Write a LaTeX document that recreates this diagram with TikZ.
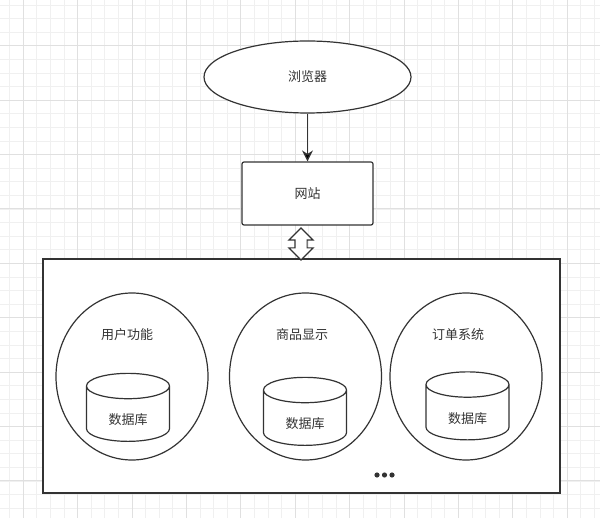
\documentclass[tikz,border=0pt]{standalone}
\usepackage{fontspec}
\usepackage{tikz}
\usetikzlibrary{shapes.geometric,shapes.arrows,positioning,arrows.meta}
\newfontfamily\cjk{Noto Sans CJK SC}
\definecolor{minorgrid}{HTML}{F0F0F0}
\definecolor{majorgrid}{HTML}{E0E0E0}
\definecolor{ink}{HTML}{333333}

\begin{document}
\begin{tikzpicture}[x=1pt,y=-1pt,line width=1.2pt,on grid,
   every node/.style={font=\cjk\fontsize{13}{15}\selectfont,text=ink},
   outlined/.style={draw=ink,fill=white,inner sep=0pt},
   browser/.style={outlined,ellipse,minimum width=207pt,minimum height=72pt},
   site/.style={outlined,rectangle,rounded corners=2pt,minimum width=131pt,minimum height=63pt},
   sysbox/.style={outlined,rectangle,minimum width=517pt,minimum height=234pt},
   module/.style={outlined,ellipse,minimum width=152pt,minimum height=167pt},
   db/.style={outlined,cylinder,shape border rotate=90,aspect=0.65,text height=23pt,minimum height=68pt,minimum width=83pt},
   link/.style={outlined,double arrow,rotate=90,inner ysep=5.5pt,minimum height=32pt,minimum width=24pt,double arrow head extend=6pt},
   minorline/.style={draw=minorgrid,line width=1pt},
   majorline/.style={draw=majorgrid,line width=1pt}]
   \useasboundingbox (0,0) rectangle (600,518);
   % background grid
   \foreach \i in {0,...,43} \draw[minorline] ({9.7+13.6*\i},0) -- ({9.7+13.6*\i},518);
   \foreach \j in {0,...,38} \draw[minorline] (0,{5.1+13.6*\j}) -- (600,{5.1+13.6*\j});
   \foreach \i in {0,...,10} \draw[majorline] ({23.3+54.4*\i},0) -- ({23.3+54.4*\i},518);
   \foreach \j in {0,...,8} \draw[majorline] (0,{45.7+54.4*\j}) -- (600,{45.7+54.4*\j});

   \node[browser] (browser) at (307.5,77) {浏览器};
   \node[site] (site) [below=116.5pt of browser] {网站};
   \node[sysbox] (sys) at (301.5,376) {};
   \node[link] (link) at (301,244) {};

   \node[module] (user) at (132,376.5) {};
   \node[module] (goods) [right=173.5pt of user] {};
   \node[module] (order) [right=160.5pt of goods] {};

   \node (userT) at (127,335) {用户功能};
   \node (goodsT) at (302,335) {商品显示};
   \node (orderT) at (458,335) {订单系统};

   \node[db] (userDB) at (128,414) {数据库};
   \node[db] (goodsDB) at (305,418) {数据库};
   \node[db] (orderDB) at (467.5,412.5) {数据库};

   \foreach \x in {377,384.5,392} \fill[ink] (\x,475) circle (2.6pt);

    \path[-{Stealth[length=11pt,width=11pt]},draw=ink]
    (browser) edge (site);
\end{tikzpicture}
\end{document}
